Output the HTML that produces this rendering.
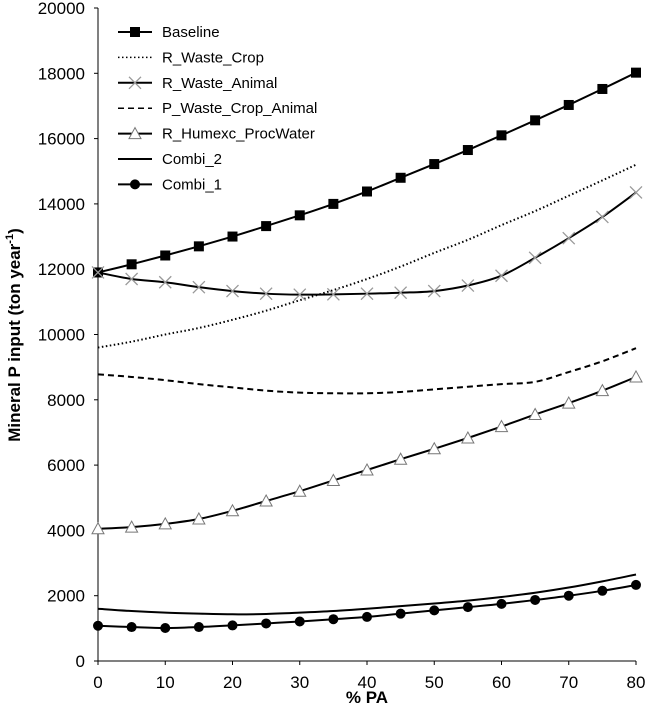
<!DOCTYPE html>
<html><head><meta charset="utf-8"><style>
body{margin:0;background:#fff;}
svg text{font-family:"Liberation Sans",Arial,sans-serif;fill:#000;}
</style></head><body>
<svg id="c" width="647" height="722"></svg>
<script>
const xs=[0,5,10,15,20,25,30,35,40,45,50,55,60,65,70,75,80];
const baseline=[11900,12150,12420,12700,13000,13320,13650,14000,14380,14800,15220,15650,16100,16560,17030,17520,18020];
const wasteCrop=[9600,9780,10000,10200,10450,10730,11050,11360,11700,12080,12500,12900,13350,13780,14250,14720,15200];
const wasteAnimal=[11900,11700,11600,11450,11330,11250,11220,11230,11250,11280,11330,11500,11800,12350,12950,13600,14350];
const pWaste=[8780,8700,8600,8480,8380,8280,8220,8200,8200,8240,8320,8400,8480,8550,8850,9180,9580];
const humexc=[4050,4100,4200,4350,4600,4900,5200,5530,5850,6180,6500,6830,7180,7550,7900,8280,8700];
const combi2=[1600,1530,1480,1450,1430,1440,1480,1530,1600,1680,1760,1850,1960,2090,2250,2440,2650];
const combi1=[1080,1040,1010,1040,1090,1150,1210,1280,1350,1450,1550,1650,1750,1870,2000,2150,2330];
const yTicks=[0,2000,4000,6000,8000,10000,12000,14000,16000,18000,20000];
const xTicks=[0,10,20,30,40,50,60,70,80];
const legendLabels=["Baseline","R_Waste_Crop","R_Waste_Animal","P_Waste_Crop_Animal","R_Humexc_ProcWater","Combi_2","Combi_1"];

const L=98,R=636,T=8,B=661;
const X=v=>L+(v-0)/(80-0)*(R-L);
const Y=v=>B-(v/20000)*(B-T);
const svg=document.getElementById('c');
const NS='http://www.w3.org/2000/svg';
function mk(t,a,p){const e=document.createElementNS(NS,t);for(const k in a)e.setAttribute(k,a[k]);(p||svg).appendChild(e);return e;}

let e=mk('line',{x1:L,y1:T,x2:L,y2:B,stroke:'#000','stroke-width':1});


e=mk('line',{x1:L,y1:B,x2:R,y2:B,stroke:'#000','stroke-width':1});


yTicks.forEach(v=>{
  const t=mk('line',{x1:L-4,y1:Y(v),x2:L,y2:Y(v),stroke:'#000'});
  
  
  const l=mk('text',{x:L-13,y:Y(v)+6,'text-anchor':'end','font-size':17});
  l.textContent=v;
  
  
});
xTicks.forEach(v=>{
  const t=mk('line',{x1:X(v),y1:B,x2:X(v),y2:B+4,stroke:'#000'});
  
  
  const l=mk('text',{x:X(v),y:B+27,'text-anchor':'middle','font-size':17});
  l.textContent=v;
  
  
});
e=mk('text',{x:X(40),y:703,'text-anchor':'middle','font-size':17,'font-weight':'bold'});
e.textContent='% PA';


e=mk('text',{x:0,y:0,'text-anchor':'middle','font-size':17,'font-weight':'bold',transform:'translate(20,335) rotate(-90)'});
e.innerHTML='Mineral P  input (ton year<tspan dy="-7" font-size="11">-1</tspan><tspan dy="7">)</tspan>';



function smooth(pts){
  let d='M'+pts[0][0]+','+pts[0][1];
  for(let i=0;i<pts.length-1;i++){
    const p0=pts[i-1]||pts[i],p1=pts[i],p2=pts[i+1],p3=pts[i+2]||p2;
    const c1=[p1[0]+(p2[0]-p0[0])/6,p1[1]+(p2[1]-p0[1])/6];
    const c2=[p2[0]-(p3[0]-p1[0])/6,p2[1]-(p3[1]-p1[1])/6];
    d+=`C${c1[0]},${c1[1]} ${c2[0]},${c2[1]} ${p2[0]},${p2[1]}`;
  }
  return d;
}
function marker(type,x,y,g){
  if(type==='sq')return mk('rect',{x:x-5,y:y-5,width:10,height:10,fill:'#000'},g);
  if(type==='ci')return mk('circle',{cx:x,cy:y,r:5,fill:'#000'},g);
  if(type==='x')return mk('path',{d:`M${x-6},${y-6}L${x+6},${y+6}M${x-6},${y+6}L${x+6},${y-6}`,stroke:'#999','stroke-width':1.3,fill:'none'},g);
  if(type==='tr')return mk('path',{d:`M${x},${y-6}L${x+6},${y+5}L${x-6},${y+5}Z`,stroke:'#777','stroke-width':1,fill:'#fff'},g);
}
const series=[
 {name:'baseline',vals:baseline,dash:null,m:'sq'},
 {name:'r-waste-crop',vals:wasteCrop,dash:'1.5,2.5',m:null},
 {name:'r-waste-animal',vals:wasteAnimal,dash:null,m:'x'},
 {name:'p-waste-crop-animal',vals:pWaste,dash:'6,4',m:null},
 {name:'r-humexc-procwater',vals:humexc,dash:null,m:'tr'},
 {name:'combi-2',vals:combi2,dash:null,m:null},
 {name:'combi-1',vals:combi1,dash:null,m:'ci'}
];
series.forEach(s=>{
  const g=mk('g',{});
  
  
  const pts=xs.map((x,i)=>[X(x),Y(s.vals[i])]);
  const a={d:smooth(pts),fill:'none',stroke:'#000','stroke-width':2};
  if(s.dash)a['stroke-dasharray']=s.dash;
  const p=mk('path',a,g);
  
  
  if(s.m)pts.forEach(q=>{const mm=marker(s.m,q[0],q[1],g);
    
    });
});
const lg=mk('g',{});


series.forEach((s,i)=>{
  const y=32+i*25.4;
  const a={x1:118,y1:y,x2:152,y2:y,stroke:'#000','stroke-width':s.dash?1.5:2};
  if(s.dash)a['stroke-dasharray']=s.dash;
  const g=mk('g',{},lg);
  
  
  mk('line',a,g);
  if(s.m)marker(s.m,135,y,g);
  const t=mk('text',{x:162,y:y+5,'font-size':15},g);
  t.textContent=legendLabels[i];
});
</script>
</body></html>
